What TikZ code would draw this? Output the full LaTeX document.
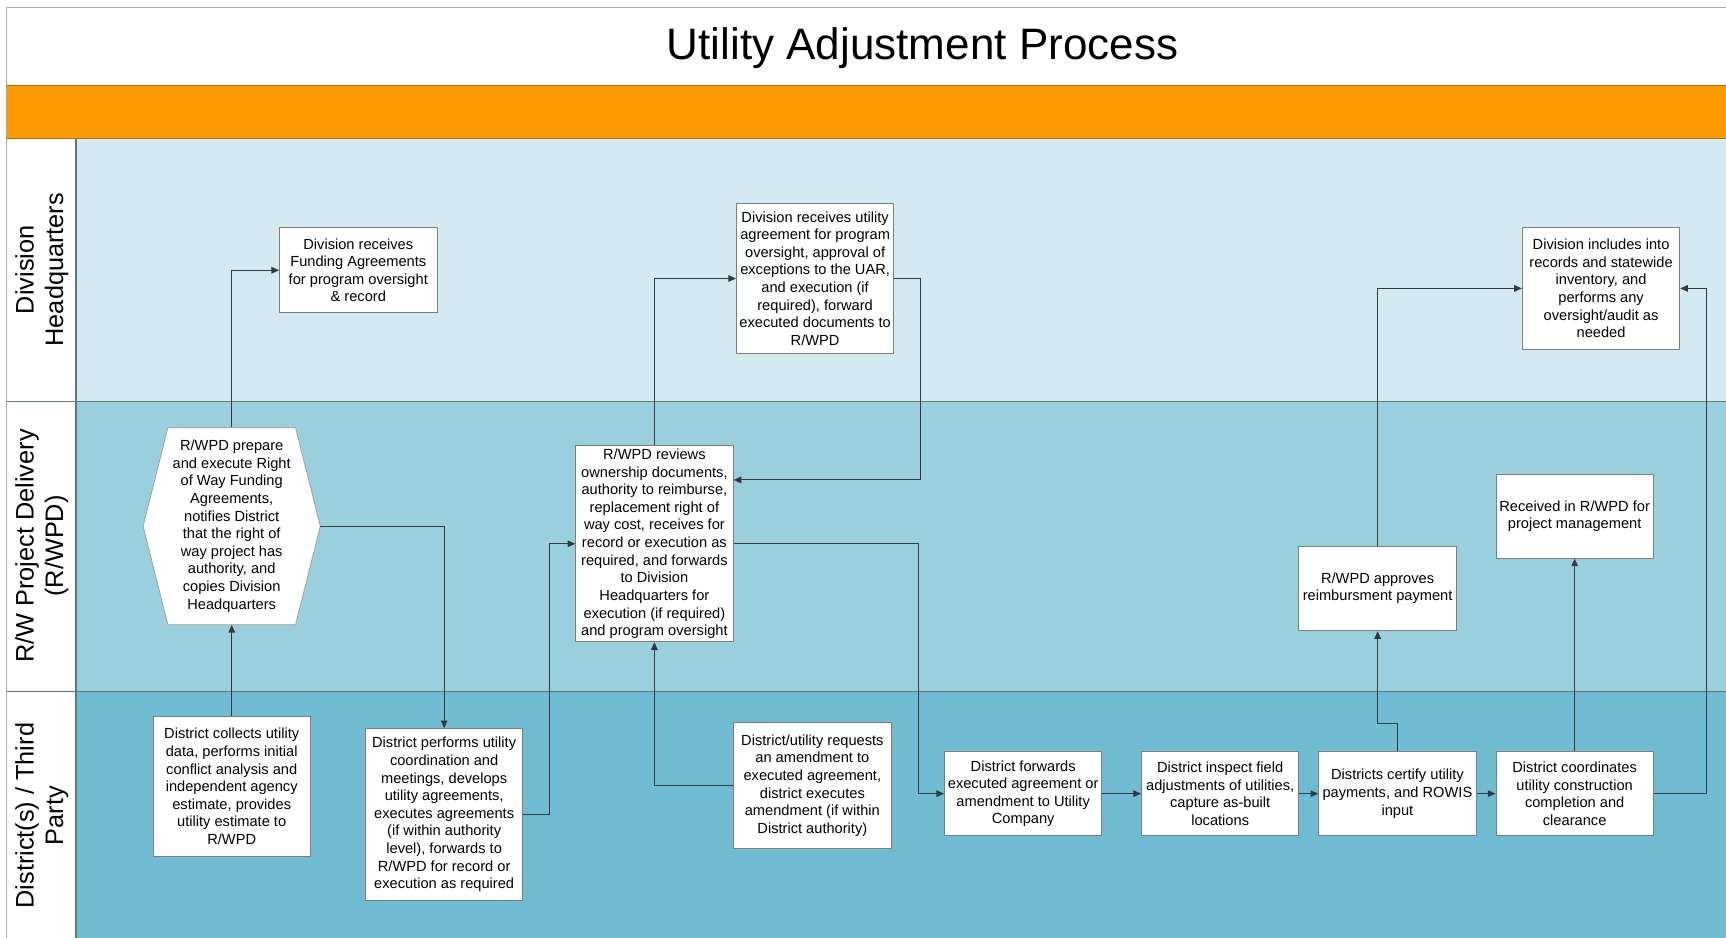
\documentclass[tikz,border=0pt]{standalone}
\usepackage{fontspec}
\setmainfont{Liberation Sans}
\usetikzlibrary{arrows.meta}
\definecolor{laneA}{RGB}{210,234,240}
\definecolor{laneB}{RGB}{154,207,221}
\definecolor{laneC}{RGB}{112,189,211}
\definecolor{orangeband}{RGB}{255,153,0}
\definecolor{orangeline}{RGB}{170,110,30}
\definecolor{laneline}{RGB}{95,118,125}
\definecolor{conn}{RGB}{50,58,62}
\definecolor{boxline}{RGB}{125,125,125}
\definecolor{frameline}{RGB}{170,170,170}
\begin{document}
\begin{tikzpicture}[x=1pt,y=-1pt,
  box/.style={draw=boxline, line width=0.8pt, fill=white, align=center, inner sep=0pt,
    minimum width=143pt, font=\fontsize{13.3}{16}\selectfont},
  hextext/.style={align=center, inner sep=0pt, minimum width=116pt, minimum height=179pt,
    font=\fontsize{13.3}{16}\selectfont},
  arr/.style={draw=conn, line width=0.9pt, -{Triangle[length=7pt,width=6pt]}},
  lanelabel/.style={rotate=90, align=center, font=\fontsize{23}{27}\selectfont},
  lanesep/.style={draw=laneline, line width=1pt}]
\useasboundingbox (0,0) rectangle (1568,852);
% backgrounds
\fill[white] (0,0) rectangle (1568,852);
\fill[orangeband] (6,78) rectangle (1568,126);
\fill[laneA] (69,126) rectangle (1568,365);
\fill[laneB] (69,365) rectangle (1568,628);
\fill[laneC] (69,628) rectangle (1568,852);
\draw[frameline, line width=1pt] (1568,7) -- (6,7) -- (6,852);
\draw[orangeline, line width=0.8pt] (6,78) -- (1568,78);
\draw[orangeline, line width=0.8pt] (6,126) -- (1568,126);
\draw[lanesep] (69,126) -- (69,852);
\draw[lanesep] (6,365) -- (1568,365);
\draw[lanesep] (6,628) -- (1568,628);
% title and lane labels
\node[font=\fontsize{40}{48}\selectfont] (title) at (838,44) {Utility Adjustment Process};
\node[lanelabel] (laneHQ) at (38,245) {Division\\Headquarters};
\node[lanelabel] (laneRW) at (38,496) {R/W Project Delivery\\(R/WPD)};
\node[lanelabel] (laneDT) at (38,741) {District(s) / Third\\Party};
% hexagon
\filldraw[fill=white, draw=boxline!70, line width=0.8pt]
  (152.5,388.5) -- (268.5,388.5) -- (291,478) -- (268.5,567.5) -- (152.5,567.5) -- (130,478) -- cycle;
\node[hextext] (hex) at (210.5,478) {R/WPD prepare\\and execute Right\\of Way Funding\\Agreements,\\notifies District\\that the right of\\way project has\\authority, and\\copies Division\\Headquarters};
\coordinate (hexR) at (291,478);
% boxes
\node[box, minimum height=77pt] (fund) at (325.5,245.5) {Division receives\\Funding Agreements\\for program oversight\\\& record};
\node[box, minimum height=136pt] (divutil) at (740.5,253) {Division receives utility\\agreement for program\\oversight, approval of\\exceptions to the UAR,\\and execution (if\\required), forward\\executed documents to\\R/WPD};
\node[box, minimum height=110pt] (divinc) at (1454.5,262) {Division includes into\\records and statewide\\inventory, and\\performs any\\oversight/audit as\\needed};
\node[box, minimum height=178pt] (reviews) at (594.5,494) {R/WPD reviews\\ownership documents,\\authority to reimburse,\\replacement right of\\way cost, receives for\\record or execution as\\required, and forwards\\to Division\\Headquarters for\\execution (if required)\\and program oversight};
\node[box, minimum height=77pt] (approves) at (1251.5,534.5) {R/WPD approves\\reimbursment payment};
\node[box, minimum height=76pt] (received) at (1430.5,469) {Received in R/WPD for\\project management};
\node[box, minimum height=127pt] (collects) at (210.5,714.5) {District collects utility\\data, performs initial\\conflict analysis and\\independent agency\\estimate, provides\\utility estimate to\\R/WPD};
\node[box, minimum height=156pt] (performs) at (403.5,740) {District performs utility\\coordination and\\meetings, develops\\utility agreements,\\executes agreements\\(if within authority\\level), forwards to\\R/WPD for record or\\execution as required};
\node[box, minimum height=115pt] (requests) at (738,713.5) {District/utility requests\\an amendment to\\executed agreement,\\district executes\\amendment (if within\\District authority)};
\node[box, minimum height=76pt] (forwards) at (929.5,721) {District forwards\\executed agreement or\\amendment to Utility\\Company};
\node[box, minimum height=76pt] (inspect) at (1108.5,721) {District inspect field\\adjustments of utilities,\\capture as-built\\locations};
\node[box, minimum height=76pt] (certify) at (1269.5,721) {Districts certify utility\\payments, and ROWIS\\input};
\node[box, minimum height=76pt] (coords) at (1430.5,721) {District coordinates\\utility construction\\completion and\\clearance};
% connectors
\draw[arr] (collects.north) -- (hex.south);
\draw[arr] (hex.north) |- (fund.west);
\draw[arr] (hexR) -| (performs.north);
\draw[arr] (performs.east) -- ++(24,0) |- (reviews.west);
\draw[arr] (reviews.north) |- (divutil.west);
\draw[arr] (divutil.east) -- ++(24,0) |- ([yshift=58pt]reviews.east);
\draw[arr] (requests.west) -| (reviews.south);
\draw[arr] (reviews.east) -- ++(168,0) |- (forwards.west);
\draw[arr] (forwards) -- (inspect);
\draw[arr] (inspect) -- (certify);
\draw[arr] (certify) -- (coords);
\draw[arr] (certify.north) -- ++(0,-25) -| (approves.south);
\draw[arr] (approves.north) |- (divinc.west);
\draw[arr] (coords.north) -- (received.south);
\draw[arr] (coords.east) -- ++(48,0) |- (divinc.east);
\end{tikzpicture}
\end{document}
